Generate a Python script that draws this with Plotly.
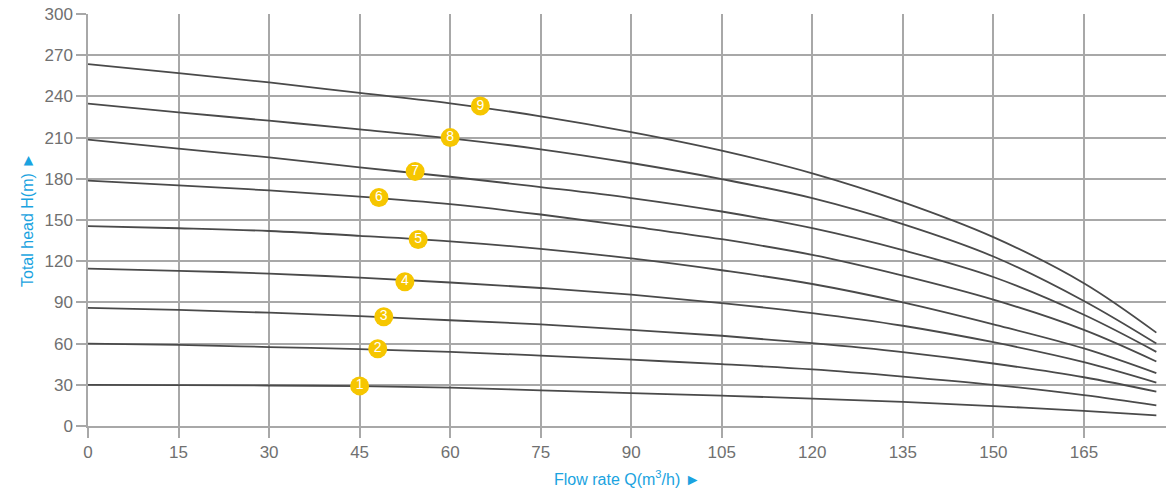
import plotly.graph_objects as go

# Flow rate sample points (m3/h)
flow = [0, 15, 30, 45, 60, 75, 90, 105, 120, 135, 150, 165, 177]

# Head curves (m) for pump models 1..9
head_1 = [30.0, 29.8, 29.5, 29.0, 28.0, 26.0, 24.0, 22.1, 20.0, 17.5, 14.5, 11.0, 7.8]
head_2 = [60.0, 59.0, 57.5, 56.0, 54.0, 51.3, 48.3, 45.0, 41.2, 36.0, 30.0, 22.5, 15.0]
head_3 = [86.0, 84.5, 82.5, 80.0, 77.0, 74.0, 70.0, 65.7, 60.3, 53.8, 45.5, 35.5, 25.0]
head_4 = [114.6, 113.0, 111.0, 108.0, 104.5, 100.5, 95.6, 89.5, 82.2, 73.0, 61.0, 46.5, 31.6]
head_5 = [145.5, 144.0, 142.0, 138.5, 134.5, 129.0, 122.0, 113.4, 103.4, 90.0, 74.0, 56.5, 38.5]
head_6 = [178.6, 175.2, 171.5, 167.0, 161.5, 154.0, 145.3, 136.0, 124.6, 109.5, 92.0, 70.0, 47.0]
head_7 = [208.5, 201.9, 195.6, 188.3, 181.5, 174.0, 166.0, 156.2, 144.0, 128.0, 108.5, 81.0, 54.0]
head_8 = [234.7, 228.4, 222.3, 216.0, 209.5, 201.5, 191.5, 179.8, 165.9, 147.0, 123.4, 91.0, 60.0]
head_9 = [263.5, 257.0, 250.2, 242.5, 235.0, 225.5, 214.0, 200.5, 184.0, 163.0, 137.5, 104.0, 68.0]

curves = [head_1, head_2, head_3, head_4, head_5, head_6, head_7, head_8, head_9]

# Numbered badges on each curve
badge_labels = ["1", "2", "3", "4", "5", "6", "7", "8", "9"]
badge_x = [45.0, 48.0, 49.0, 52.5, 54.7, 48.2, 54.2, 60.0, 65.0]
badge_y = [29.2, 56.2, 79.5, 105.0, 135.8, 166.4, 185.4, 210.0, 233.0]

x_ticks = [0, 15, 30, 45, 60, 75, 90, 105, 120, 135, 150, 165]
y_ticks = [0, 30, 60, 90, 120, 150, 180, 210, 240, 270, 300]

FONT = "Liberation Sans, Arial, Helvetica, sans-serif"
GRID = "#a8a8a8"
BLUE = "#1aa3e0"
TICKC = "#707070"

fig = go.Figure()

for c in curves:
    fig.add_trace(go.Scatter(
        x=flow, y=c, mode="lines",
        line=dict(color="#4a4a4a", width=1.8, shape="spline", smoothing=1.0),
        hoverinfo="skip", showlegend=False,
    ))

fig.add_trace(go.Scatter(
    x=badge_x, y=badge_y, mode="markers+text",
    marker=dict(size=19, color="#f6c600", line=dict(width=0)),
    text=badge_labels, textposition="middle center",
    textfont=dict(family=FONT, size=14, color="white"),
    hoverinfo="skip", showlegend=False,
))

fig.update_layout(
    width=1166, height=488,
    margin=dict(l=88, r=0, t=14, b=62),
    paper_bgcolor="white", plot_bgcolor="white",
    font=dict(family=FONT, size=17, color=TICKC),
    annotations=[
        dict(text="Flow rate Q(m<sup>3</sup>/h) ►", xref="paper", yref="paper",
             x=0.5, y=0, yshift=-52, xanchor="center", yanchor="middle",
             showarrow=False, font=dict(family=FONT, size=16, color=BLUE)),
        dict(text="Total head H(m) ►", xref="paper", yref="paper",
             x=0, xshift=-61, y=0.5, xanchor="center", yanchor="middle",
             textangle=-90, showarrow=False, font=dict(family=FONT, size=16, color=BLUE)),
    ],
)

fig.update_xaxes(
    range=[0, 178.6], tickvals=x_ticks, ticktext=[str(v) for v in x_ticks],
    showgrid=True, gridcolor=GRID, gridwidth=1.5,
    zeroline=False, showline=True, linecolor=GRID, linewidth=1.5,
    ticks="outside", ticklen=10, tickcolor=GRID, tickwidth=1.5,
    tickfont=dict(family=FONT, size=17, color=TICKC),
)
fig.update_yaxes(
    range=[0, 300], tickvals=y_ticks, ticktext=[str(v) for v in y_ticks],
    showgrid=True, gridcolor=GRID, gridwidth=1.5,
    zeroline=False, showline=True, linecolor=GRID, linewidth=1.5,
    ticks="outside", ticklen=10, tickcolor=GRID, tickwidth=1.5,
    tickfont=dict(family=FONT, size=17, color=TICKC),
)

fig.write_html(
    "out.html",
    config={"displayModeBar": False},
    post_script="document.body.style.margin='0';document.documentElement.style.margin='0';",
)
